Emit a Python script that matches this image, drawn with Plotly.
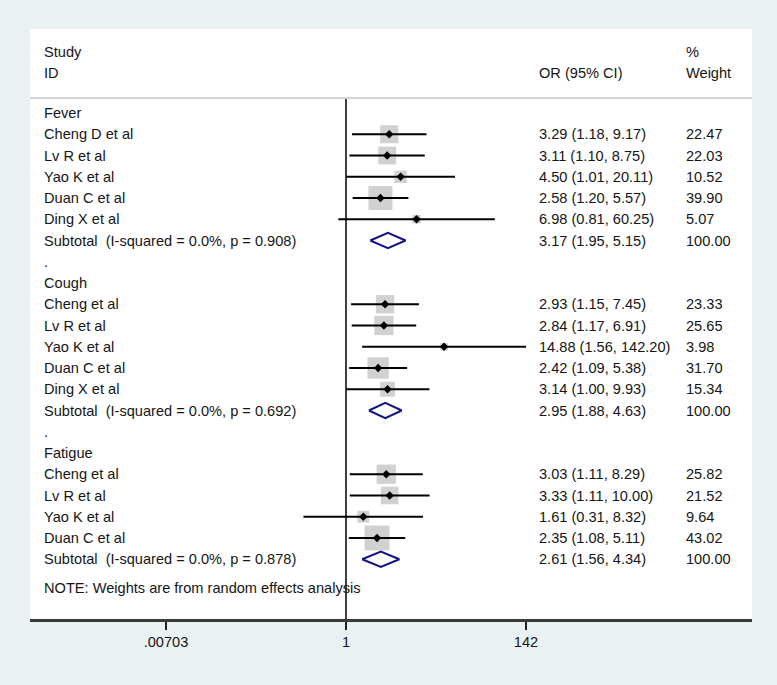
import math
import plotly.graph_objects as go

# ---------------- data ----------------
group_names = ["Fever", "Cough", "Fatigue"]

fever_studies = ["Cheng D et al", "Lv R et al", "Yao K et al", "Duan C et al", "Ding X et al"]
fever_or = [3.29, 3.11, 4.50, 2.58, 6.98]
fever_lo = [1.18, 1.10, 1.01, 1.20, 0.81]
fever_hi = [9.17, 8.75, 20.11, 5.57, 60.25]
fever_w = [22.47, 22.03, 10.52, 39.90, 5.07]
fever_sub = [3.17, 1.95, 5.15]
fever_i2, fever_p = "0.0%", "0.908"

cough_studies = ["Cheng et al", "Lv R et al", "Yao K et al", "Duan C et al", "Ding X et al"]
cough_or = [2.93, 2.84, 14.88, 2.42, 3.14]
cough_lo = [1.15, 1.17, 1.56, 1.09, 1.00]
cough_hi = [7.45, 6.91, 142.20, 5.38, 9.93]
cough_w = [23.33, 25.65, 3.98, 31.70, 15.34]
cough_sub = [2.95, 1.88, 4.63]
cough_i2, cough_p = "0.0%", "0.692"

fatigue_studies = ["Cheng et al", "Lv R et al", "Yao K et al", "Duan C et al"]
fatigue_or = [3.03, 3.33, 1.61, 2.35]
fatigue_lo = [1.11, 1.11, 0.31, 1.08]
fatigue_hi = [8.29, 10.00, 8.32, 5.11]
fatigue_w = [25.82, 21.52, 9.64, 43.02]
fatigue_sub = [2.61, 1.56, 4.34]
fatigue_i2, fatigue_p = "0.0%", "0.878"

tick_vals = [0.00703, 1, 142]
tick_text = [".00703", "1", "142"]

groups = [
    (group_names[0], fever_studies, fever_or, fever_lo, fever_hi, fever_w, fever_sub, fever_i2, fever_p),
    (group_names[1], cough_studies, cough_or, cough_lo, cough_hi, cough_w, cough_sub, cough_i2, cough_p),
    (group_names[2], fatigue_studies, fatigue_or, fatigue_lo, fatigue_hi, fatigue_w, fatigue_sub, fatigue_i2, fatigue_p),
]

# ---------------- styling ----------------
FONT = "Liberation Sans, Arial, Helvetica, sans-serif"
FS = 14.6
TXT = "#151515"
NAVY = "#12128a"
BOX = "#bdbdbd"
BG = "#e9f1f3"
X_LABEL = 0.0166   # paper x of study column
X_OR = 0.702       # paper x of OR column
X_W = 0.906        # paper x of weight column

annotations = []


def add_text(x, y, text):
    annotations.append(dict(x=x, y=y, xref="paper", yref="y", text=text,
                            showarrow=False, xanchor="left", yanchor="middle",
                            font=dict(family=FONT, size=FS, color=TXT)))


# header
add_text(X_LABEL, -2.87, "Study")
add_text(X_LABEL, -1.88, "ID")
add_text(X_OR, -1.88, "OR (95% CI)")
add_text(X_W, -2.87, "%")
add_text(X_W, -1.88, "Weight")

ci_x, ci_y = [], []
pt_x, pt_y, box_size = [], [], []
dia_x, dia_y = [], []
H = 0.36  # half height of subtotal diamond, in rows

row = 0
for gi, (gname, studies, ors, los, his, ws, sub, i2, p) in enumerate(groups):
    add_text(X_LABEL, row, gname)
    row += 1
    for s, o, lo, hi, w in zip(studies, ors, los, his, ws):
        add_text(X_LABEL, row, s)
        add_text(X_OR, row, f"{o:.2f} ({lo:.2f}, {hi:.2f})")
        add_text(X_W, row, f"{w:.2f}")
        ci_x += [lo, hi, None]
        ci_y += [row, row, None]
        pt_x.append(o)
        pt_y.append(row)
        box_size.append(3.8 * math.sqrt(w))
        row += 1
    so, slo, shi = sub
    add_text(X_LABEL, row, f"Subtotal\u00a0 (I-squared = {i2}, p = {p})")
    add_text(X_OR, row, f"{so:.2f} ({slo:.2f}, {shi:.2f})")
    add_text(X_W, row, "100.00")
    dia_x += [slo, so, shi, so, slo, None]
    dia_y += [row, row - H, row, row + H, row, None]
    row += 1
    if gi < len(groups) - 1:
        add_text(X_LABEL, row, ".")
        row += 1

add_text(X_LABEL, row + 0.35, "NOTE: Weights are from random effects analysis")

Y_TOP, Y_BOT = -3.953, 23.812

fig = go.Figure()
# weight boxes
fig.add_trace(go.Scatter(x=pt_x, y=pt_y, mode="markers",
                         marker=dict(symbol="square", size=box_size, color=BOX, line=dict(width=0)),
                         hoverinfo="skip"))
# CI lines
fig.add_trace(go.Scatter(x=ci_x, y=ci_y, mode="lines",
                         line=dict(color="black", width=2), hoverinfo="skip"))
# point estimates
fig.add_trace(go.Scatter(x=pt_x, y=pt_y, mode="markers",
                         marker=dict(symbol="diamond", size=6.5, color="black", line=dict(width=0)),
                         hoverinfo="skip"))
# subtotal diamonds
fig.add_trace(go.Scatter(x=dia_x, y=dia_y, mode="lines",
                         line=dict(color=NAVY, width=2), hoverinfo="skip"))
# null line at OR = 1
fig.add_trace(go.Scatter(x=[1, 1], y=[-0.66, Y_BOT], mode="lines",
                         line=dict(color="black", width=1.5), hoverinfo="skip"))

fig.update_layout(
    width=777, height=685,
    margin=dict(l=30, r=25, t=29, b=66),
    paper_bgcolor=BG, plot_bgcolor="white",
    showlegend=False,
    font=dict(family=FONT, size=FS, color=TXT),
    annotations=annotations,
    shapes=[dict(type="line", xref="paper", yref="y", x0=0, x1=1, y0=-0.706, y1=-0.706,
                 line=dict(color="#c6c6c6", width=1.5))],
    xaxis=dict(type="log", range=[-3.7786, 4.8547], showgrid=False, zeroline=False,
               showline=True, linecolor="#3a3a3a", linewidth=2.5,
               ticks="outside", ticklen=8, tickwidth=1.5, tickcolor="#222",
               tickvals=tick_vals, ticktext=tick_text,
               tickfont=dict(family=FONT, size=FS, color=TXT)),
    yaxis=dict(range=[Y_BOT, Y_TOP], visible=False, showgrid=False, zeroline=False),
)

fig.write_html(
    "out.html",
    config={"displayModeBar": False},
    post_script="document.body.style.margin='0';document.body.style.overflow='hidden';"
                "document.body.style.background='" + BG + "';",
)
